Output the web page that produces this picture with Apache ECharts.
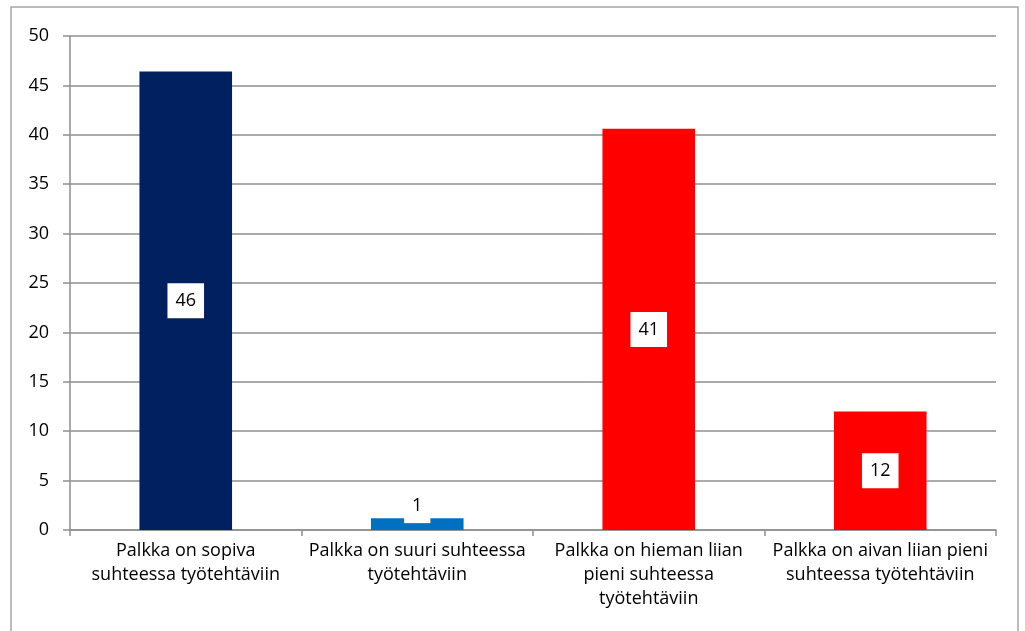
<!DOCTYPE html>
<html>
<head>
<meta charset="utf-8">
<script src="https://cdn.jsdelivr.net/npm/echarts@6/dist/echarts.min.js"></script>
<style>
  html, body { margin: 0; padding: 0; background: #fff; }
  #chart { width: 1025px; height: 631px; }
</style>
</head>
<body>
<div id="chart"></div>
<script>
// kategoriat (rivinvaihdot kuten alkuperäisessä kuvassa)
const categories = [
  "Palkka on sopiva\nsuhteessa työtehtäviin",
  "Palkka on suuri suhteessa\ntyötehtäviin",
  "Palkka on hieman liian\npieni suhteessa\ntyötehtäviin",
  "Palkka on aivan liian pieni\nsuhteessa työtehtäviin"
];
// arvot luettu kuvasta (prosentteja, tarrat pyöristetty)
const values = [46.4, 1.2, 40.6, 12.0];
const barColors = ["#002060", "#0070C0", "#FF0000", "#FF0000"];
const yTicks = { min: 0, max: 50, interval: 5 };

const fontFamily = "'Open Sans', 'Noto Sans', sans-serif";
const gridColor = "#8e8e8e";

const chart = echarts.init(document.getElementById("chart"));

const seriesData = values.map((v, i) => {
  const item = { value: v, itemStyle: { color: barColors[i] } };
  // pieni pylväs: tarra pylvään yläpuolelle
  if (v < 3) {
    item.label = { position: "top", distance: -5 };
  }
  return item;
});

const option = {
  animation: false,
  graphic: [
    {
      type: "rect",
      shape: { x: 11, y: 7, width: 1007, height: 640 },
      style: { fill: "none", stroke: "#a6a6a6", lineWidth: 1.5 },
      silent: true
    }
  ],
  grid: { left: 70, right: 29, top: 36, bottom: 101 },
  xAxis: {
    type: "category",
    data: categories,
    axisLine: { lineStyle: { color: gridColor, width: 1.5 } },
    axisTick: { show: true, length: 6, lineStyle: { color: gridColor, width: 1.5 } },
    axisLabel: {
      color: "#000",
      fontFamily: fontFamily,
      fontSize: 18,
      lineHeight: 24,
      margin: 9,
      interval: 0
    }
  },
  yAxis: {
    type: "value",
    min: yTicks.min,
    max: yTicks.max,
    interval: yTicks.interval,
    axisLine: { show: true, lineStyle: { color: gridColor, width: 1.5 } },
    axisTick: { show: true, length: 7, lineStyle: { color: gridColor, width: 1.5 } },
    axisLabel: {
      color: "#000",
      fontFamily: fontFamily,
      fontSize: 18,
      margin: 21
    },
    splitLine: { lineStyle: { color: gridColor, width: 1.5 } }
  },
  series: [
    {
      type: "bar",
      barWidth: "40%",
      data: seriesData,
      label: {
        show: true,
        position: "inside",
        formatter: (p) => String(Math.round(p.value)),
        color: "#000",
        fontFamily: fontFamily,
        fontSize: 18,
        backgroundColor: "#fff",
        padding: [9, 8, 8, 8]
      }
    }
  ]
};

chart.setOption(option);
</script>
</body>
</html>
